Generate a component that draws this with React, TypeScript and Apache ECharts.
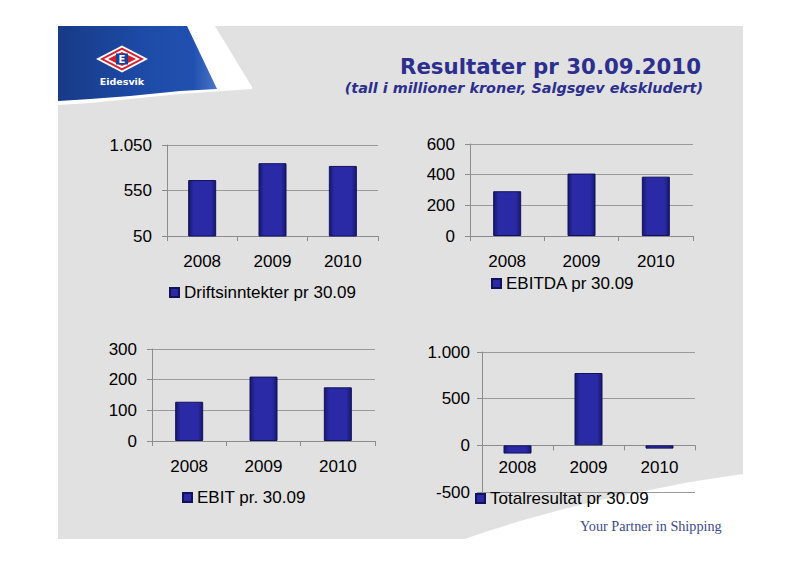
import React, { useEffect, useRef } from "react";
import * as echarts from "echarts";

const years = ["2008", "2009", "2010"];
const driftsinntekter = [665, 850, 820];
const ebitda = [292, 407, 387];
const ebit = [128, 210, 175];
const totalresultat = [-88, 775, -35];

const seriesNames = [
  "Driftsinntekter pr 30.09",
  "EBITDA pr 30.09",
  "EBIT pr. 30.09",
  "Totalresultat pr 30.09",
];
const seriesData = [driftsinntekter, ebitda, ebit, totalresultat];

// axis ranges: [min, max, interval]
const yRanges = [
  [50, 1050, 500],
  [0, 600, 200],
  [0, 300, 100],
  [-500, 1000, 500],
];

const titleText = "Resultater pr 30.09.2010";
const subtitleText = "(tall i millioner kroner, Salgsgev ekskludert)";
const footerText = "Your Partner in Shipping";
const logoText = "Eidesvik";

const grids = [
  { left: 167, top: 145, width: 211, height: 91 },
  { left: 470, top: 144, width: 223, height: 92 },
  { left: 152, top: 349, width: 223, height: 92 },
  { left: 482, top: 352, width: 213, height: 140 },
];
const legendPos = [
  { left: 169, top: 284 },
  { left: 491, top: 275 },
  { left: 182, top: 489 },
  { left: 475, top: 490 },
];
const xLabelMargin = [17, 17, 17, 14];

const fmt = (v: number) => {
  const neg = v < 0;
  const s = String(Math.abs(Math.round(v))).replace(/\B(?=(\d{3})+(?!\d))/g, ".");
  return (neg ? "-" : "") + s;
};

const FONT = "'Liberation Sans', Arial, sans-serif";

export default function App() {
  const ref = useRef<HTMLDivElement>(null);
  useEffect(() => {
    if (!ref.current) return;
    const chart = echarts.init(ref.current, undefined, { renderer: "svg" });
    const barColor = new echarts.graphic.LinearGradient(0, 0, 1, 0, [
      { offset: 0, color: "#17176e" },
      { offset: 0.18, color: "#2a2aa6" },
      { offset: 0.82, color: "#2a2aa6" },
      { offset: 1, color: "#17176e" },
    ]);
    const axisColor = "#8c8c8c";
    // place chart 4's category axis at its zero line
    const r4 = yRanges[3];
    const g4 = grids[3];
    const zeroOffset = -(g4.height * (0 - r4[0])) / (r4[1] - r4[0]);
    const option: any = {
      animation: false,
      backgroundColor: "#ffffff",
      grid: grids.map((g) => ({ ...g, containLabel: false })),
      xAxis: grids.map((_, i) => ({
        type: "category",
        gridIndex: i,
        data: years,
        z: 3,
        position: "bottom",
        offset: i === 3 ? zeroOffset : 0,
        axisLine: { show: true, onZero: false, lineStyle: { color: axisColor, width: 1 } },
        axisTick: { show: true, length: 5, lineStyle: { color: axisColor } },
        axisLabel: { fontSize: 17, color: "#000", fontFamily: FONT, margin: xLabelMargin[i] },
      })),
      yAxis: yRanges.map((r, i) => ({
        type: "value",
        gridIndex: i,
        min: r[0],
        max: r[1],
        interval: r[2],
        z: 3,
        axisLine: { show: true, lineStyle: { color: axisColor, width: 1 } },
        axisTick: { show: true, length: 5, lineStyle: { color: axisColor } },
        splitLine: { show: true, lineStyle: { color: "#9a9a9a", width: 1 } },
        axisLabel: {
          fontSize: 17,
          color: "#000",
          fontFamily: FONT,
          margin: i === 3 ? 12 : 15,
          formatter: fmt,
        },
      })),
      legend: seriesNames.map((n, i) => ({
        data: [n],
        left: legendPos[i].left,
        top: legendPos[i].top,
        padding: 0,
        itemWidth: 9,
        itemHeight: 9,
        icon: "rect",
        textStyle: { fontSize: 17, color: "#000", fontFamily: FONT },
      })),
      series: seriesNames.map((n, i) => ({
        type: "bar",
        name: n,
        xAxisIndex: i,
        yAxisIndex: i,
        data: seriesData[i],
        barWidth: 28,
        z: 4,
        itemStyle: { color: barColor, borderColor: "#12125a", borderWidth: 1 },
      })),
      graphic: [
        {
          type: "polygon",
          z: -10,
          shape: { points: [[58, 26], [743, 26], [743, 539], [58, 539]] },
          style: { fill: "#e1e1e1" },
        },
        {
          type: "polygon",
          z: -9,
          shape: {
            points: [[743, 474], [690, 482], [645, 491], [600, 500], [560, 510], [520, 521], [485, 532], [462, 540], [743, 540]],
          },
          style: { fill: "#ffffff" },
        },
        {
          type: "polygon",
          z: -9,
          shape: { points: [[187, 26], [215, 26], [252, 87], [217, 89]] },
          style: { fill: "#ffffff" },
        },
        {
          type: "polygon",
          z: -9,
          shape: {
            points: [[58, 101], [90, 99], [130, 95], [180, 90], [252, 86], [252, 89], [180, 94], [130, 99], [90, 103], [58, 105]],
          },
          style: { fill: "#ffffff" },
        },
        {
          type: "polygon",
          z: -8,
          shape: {
            points: [[58, 26], [187, 26], [217, 89], [180, 91], [130, 96], [90, 99], [58, 101]],
          },
          style: {
            fill: new echarts.graphic.LinearGradient(0, 0, 1, 0, [
              { offset: 0, color: "#173a86" },
              { offset: 0.5, color: "#1d4aa6" },
              { offset: 0.85, color: "#2050b0" },
              { offset: 1, color: "#4a76c6" },
            ]),
          },
        },
        {
          type: "polygon",
          z: -7,
          shape: { points: [[96, 59], [122, 45.5], [148, 59], [122, 72.5]] },
          style: { fill: "#ffffff" },
        },
        {
          type: "polygon",
          z: -7,
          shape: { points: [[100, 59], [122, 47.5], [144, 59], [122, 70.5]] },
          style: { fill: "#d4202e" },
        },
        {
          type: "polygon",
          z: -7,
          shape: { points: [[104, 59], [122, 49.8], [140, 59], [122, 68.2]] },
          style: { fill: "#ffffff" },
        },
        {
          type: "polygon",
          z: -7,
          shape: { points: [[108, 59], [122, 52], [136, 59], [122, 66]] },
          style: { fill: "#d4202e" },
        },
        {
          type: "rect",
          z: -7,
          shape: { x: 116, y: 53.5, width: 12, height: 11 },
          style: { fill: "#1d3f96" },
        },
        {
          type: "text",
          z: -6,
          style: {
            text: "E",
            x: 122,
            y: 59.5,
            align: "center",
            verticalAlign: "middle",
            fontSize: 10,
            fontWeight: "bold",
            fontFamily: "'DejaVu Sans', sans-serif",
            fill: "#ffffff",
          },
        },
        {
          type: "text",
          z: -6,
          style: {
            text: logoText,
            x: 122,
            y: 81,
            align: "center",
            verticalAlign: "middle",
            fontSize: 9.5,
            fontWeight: "bold",
            fontFamily: "'DejaVu Sans', sans-serif",
            fill: "#ffffff",
          },
        },
        {
          type: "text",
          z: -6,
          style: {
            text: titleText,
            x: 701,
            y: 66,
            align: "right",
            verticalAlign: "middle",
            fontSize: 21.3,
            fontWeight: "bold",
            fontFamily: "'DejaVu Sans', sans-serif",
            fill: "#2c2f8e",
          },
        },
        {
          type: "text",
          z: -6,
          style: {
            text: subtitleText,
            x: 703,
            y: 88,
            align: "right",
            verticalAlign: "middle",
            fontSize: 14.4,
            fontWeight: "bold",
            fontStyle: "italic",
            fontFamily: "'DejaVu Sans', sans-serif",
            fill: "#2c2f8e",
          },
        },
        {
          type: "text",
          z: -6,
          style: {
            text: footerText,
            x: 580,
            y: 526,
            align: "left",
            verticalAlign: "middle",
            fontSize: 14.2,
            fontFamily: "'Liberation Serif', serif",
            fill: "#3b4a8c",
          },
        },
      ],
    };
    chart.setOption(option);
    return () => chart.dispose();
  }, []);
  return (
    <div
      ref={ref}
      style={{ position: "fixed", left: 0, top: 0, width: 800, height: 566 }}
    />
  );
}
